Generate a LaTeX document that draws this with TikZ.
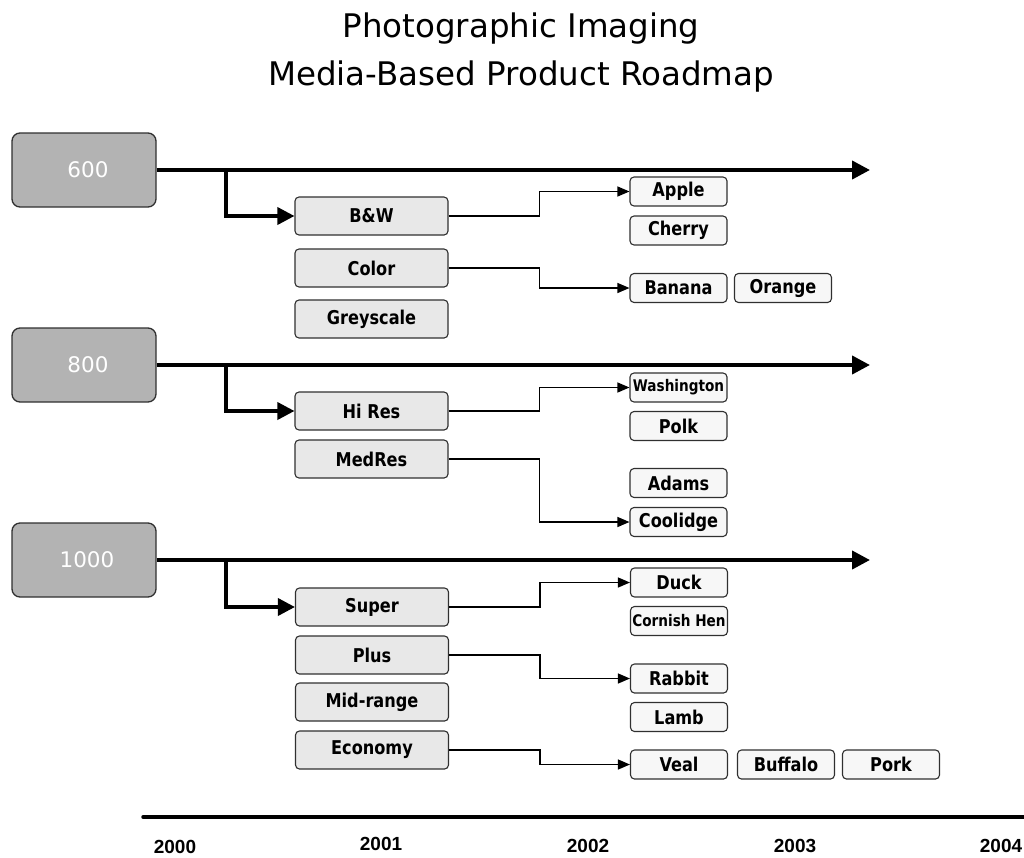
\documentclass[tikz,border=0pt]{standalone}
\usepackage{fontspec}
\setmainfont{DejaVu Sans}
\newfontfamily\boxfont[FakeStretch=0.85]{DejaVu Sans}
\newfontfamily\yearfont{Liberation Sans}
\usetikzlibrary{arrows.meta}
\definecolor{bigfill}{HTML}{B3B3B3}
\definecolor{prodfill}{HTML}{E8E8E8}
\definecolor{itemfill}{HTML}{F7F7F7}
\definecolor{edge}{HTML}{303030}
\tikzset{
  grpbox/.style={draw=edge, fill=bigfill, rounded corners=8pt, line width=1.3pt,
    minimum width=144pt, minimum height=74pt, inner sep=0pt, text=white,
    font=\fontsize{21.5}{25}\selectfont},
  prodbox/.style={draw=edge, fill=prodfill, rounded corners=4pt, line width=1.1pt,
    minimum width=153pt, minimum height=38pt, inner sep=0pt,
    font=\boxfont\bfseries\fontsize{19}{22}\selectfont},
  itembox/.style={prodbox, fill=itemfill, minimum width=97pt, minimum height=29pt},
  smalltxt/.style={font=\boxfont\bfseries\fontsize{16}{18}\selectfont},
  mainline/.style={line width=4pt, -{Triangle[length=18pt,width=18pt]}},
  branchline/.style={line width=3.5pt, -{Triangle[length=17pt,width=17pt]}},
  conn/.style={line width=1.2pt, -{Triangle[length=12pt,width=10pt]}},
  titletxt/.style={anchor=base, inner sep=0pt, font=\fontsize{32.5}{40}\selectfont},
  yeartxt/.style={anchor=base, inner sep=0pt, font=\yearfont\bfseries\fontsize{19}{22}\selectfont},
}
\begin{document}
\begin{tikzpicture}[x=1pt, y=-1pt]
\useasboundingbox (0,0) rectangle (1024,857);

% title
\node[titletxt] (title1) at (521,37) {Photographic Imaging};
\node[titletxt] (title2) at (521,85) {Media-Based Product Roadmap};

% ---------- group 600 ----------
\node[grpbox, text depth=0pt] (g600) at (84,170) {\hspace*{8pt}600};
\coordinate (e600) at (870,170);
\coordinate (j600) at (226,170);
\node[prodbox] (bw) at (371.5,216) {B\&W};
\node[prodbox] (color) at (371.5,268) {Color};
\node[prodbox] (grey) at (371.5,319) {Greyscale};
\node[itembox] (apple) at (678.5,191.5) {Apple};
\node[itembox] (cherry) at (678.5,230.5) {Cherry};
\node[itembox] (banana) at (678.5,288) {Banana};
\node[itembox] (orange) at (783,288) {Orange};
\draw[mainline] (g600.east) -- (e600);
\draw[branchline] (j600) |- (bw.west);
\draw[conn] (bw.east) -- ++(91,0) |- (apple.west);
\draw[conn] (color.east) -- ++(91,0) |- (banana.west);

% ---------- group 800 ----------
\node[grpbox] (g800) at (84,365) {\hspace*{8pt}800};
\coordinate (e800) at (870,365);
\coordinate (j800) at (226,365);
\node[prodbox] (hires) at (371.5,411) {Hi Res};
\node[prodbox] (medres) at (371.5,459) {MedRes};
\node[itembox, smalltxt] (wash) at (678.5,387.5) {Washington};
\node[itembox] (polk) at (678.5,426) {Polk};
\node[itembox] (adams) at (678.5,483) {Adams};
\node[itembox] (cool) at (678.5,522) {Coolidge};
\draw[mainline] (g800.east) -- (e800);
\draw[branchline] (j800) |- (hires.west);
\draw[conn] (hires.east) -- ++(91,0) |- (wash.west);
\draw[conn] (medres.east) -- ++(91,0) |- (cool.west);

% ---------- group 1000 ----------
\node[grpbox] (g1000) at (84,560) {\hspace*{6pt}1000};
\coordinate (e1000) at (870,560);
\coordinate (j1000) at (226,560);
\node[prodbox] (super) at (372,607) {Super};
\node[prodbox] (plus) at (372,655) {Plus};
\node[prodbox] (mid) at (372,702) {Mid-range};
\node[prodbox] (econ) at (372,750) {Economy};
\node[itembox] (duck) at (679,582.5) {Duck};
\node[itembox, smalltxt] (cornish) at (679,621) {Cornish Hen};
\node[itembox] (rabbit) at (679,678.5) {Rabbit};
\node[itembox] (lamb) at (679,717) {Lamb};
\node[itembox] (veal) at (679,764.5) {Veal};
\node[itembox] (buffalo) at (786,764.5) {Buffalo};
\node[itembox] (pork) at (891,764.5) {Pork};
\draw[mainline] (g1000.east) -- (e1000);
\draw[branchline] (j1000) |- (super.west);
\draw[conn] (super.east) -- ++(91,0) |- (duck.west);
\draw[conn] (plus.east) -- ++(91,0) |- (rabbit.west);
\draw[conn] (econ.east) -- ++(91,0) |- (veal.west);

% ---------- timeline ----------
\coordinate (t0) at (143,817);
\coordinate (t1) at (1024,817);
\draw[line width=3.5pt, line cap=round] (t0) -- (t1);
\node[yeartxt] (y2000) at (175,853) {2000};
\node[yeartxt] (y2001) at (381,850) {2001};
\node[yeartxt] (y2002) at (588,852) {2002};
\node[yeartxt] (y2003) at (795,852) {2003};
\node[yeartxt] (y2004) at (1001,852) {2004};
\end{tikzpicture}
\end{document}
